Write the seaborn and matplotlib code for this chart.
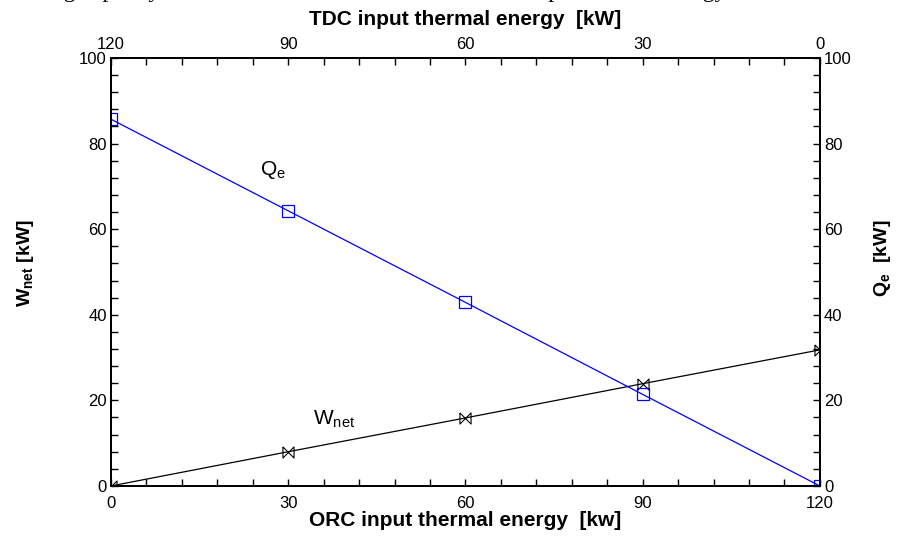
import numpy as np
import matplotlib
matplotlib.use("Agg")
import matplotlib.pyplot as plt
import seaborn as sns
from matplotlib.ticker import MultipleLocator

# data
orc_input = [0, 30, 60, 90, 120]
w_net = [0, 8.0, 15.9, 23.9, 31.8]
q_e = [85.7, 64.3, 42.9, 21.4, 0]
bottom_ticks = [0, 30, 60, 90, 120]
left_ticks = [0, 20, 40, 60, 80, 100]

sns.set_style("ticks", {'axes.edgecolor': 'black', 'text.color': 'black',
                        'axes.labelcolor': 'black', 'xtick.color': 'black',
                        'ytick.color': 'black'})
plt.rcParams['font.family'] = ['Liberation Sans', 'DejaVu Sans']
plt.rcParams['mathtext.fontset'] = 'custom'
plt.rcParams['mathtext.rm'] = 'Liberation Sans'
plt.rcParams['mathtext.bf'] = 'Liberation Sans:bold'

fig = plt.figure(figsize=(9.02, 5.38), dpi=100)
ax = fig.add_axes([0.123, 0.0967, 0.786, 0.7955])

# bow-tie marker
bowtie = [(-1, 1), (-1, -1), (1, 1), (1, -1), (-1, 1)]

sns.lineplot(x=orc_input, y=w_net, ax=ax, color='black', linewidth=0.9,
             marker=bowtie, markersize=8, markerfacecolor='none',
             markeredgecolor='black', markeredgewidth=0.8)
sns.lineplot(x=orc_input, y=q_e, ax=ax, color='blue', linewidth=0.9,
             marker='s', markersize=8, markerfacecolor='none',
             markeredgecolor='blue', markeredgewidth=0.9)

ax.set_xlim(0, 120)
ax.set_ylim(0, 100)
ax.set_xticks(bottom_ticks)
ax.set_yticks(left_ticks)
ax.xaxis.set_minor_locator(MultipleLocator(6))
ax.yaxis.set_minor_locator(MultipleLocator(4))
ax.tick_params(which='both', direction='in', labelsize=12, length=5, width=1)
ax.tick_params(axis='x', pad=7)
ax.tick_params(axis='y', pad=3)
for s in ax.spines.values():
    s.set_linewidth(1.3)

ax.set_xlabel('ORC input thermal energy  [kw]', fontsize=15, fontweight='bold')
ax.xaxis.set_label_coords(0.5, -0.058)
ax.set_ylabel(r'$\mathbf{W_{net}}$ [kW]', fontsize=14, fontweight='bold')
ax.yaxis.set_label_coords(-0.106, 0.52)

# top axis: TDC input, reversed
ax_top = ax.twiny()
ax_top.set_xlim(120, 0)
ax_top.set_xticks(bottom_ticks)
ax_top.xaxis.set_minor_locator(MultipleLocator(6))
ax_top.tick_params(which='both', direction='in', labelsize=12, length=5, width=1, pad=4)
ax_top.set_xlabel('TDC input thermal energy  [kW]', fontsize=15, fontweight='bold')
ax_top.xaxis.set_label_coords(0.5, 1.077)

# right axis: Qe
ax_r = ax.twinx()
ax_r.set_ylim(0, 100)
ax_r.set_yticks(left_ticks)
ax_r.yaxis.set_minor_locator(MultipleLocator(4))
ax_r.tick_params(which='both', direction='in', labelsize=12, length=5, width=1, pad=3)
ax_r.set_ylabel(r'$\mathbf{Q_e}$  [kW]', fontsize=14, fontweight='bold')
ax_r.yaxis.set_label_coords(1.073, 0.533)
for a in (ax_top, ax_r):
    for s in a.spines.values():
        s.set_linewidth(1.3)

ax.text(25.2, 72.7, r'Q$_\mathregular{e}$', fontsize=15)
ax.text(34.2, 14.5, r'W$_\mathregular{net}$', fontsize=15)

# clipped caption line at very top
fig.text(0.007, 1.006, 'heating capacity', fontsize=17, family='Liberation Serif', va='baseline')
fig.text(0.588, 1.006, 'input thermal energy', fontsize=17, family='Liberation Serif', va='baseline')

fig.savefig('out.png', dpi=100)
